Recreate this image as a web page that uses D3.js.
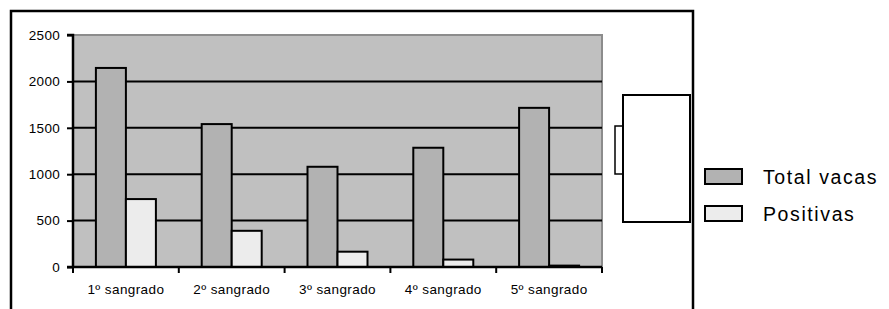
<!DOCTYPE html>
<html>
<head>
<meta charset="utf-8">
<script src="https://cdn.jsdelivr.net/npm/d3@7"></script>
<style>
  body { margin: 0; background: #fff; }
  svg { display: block; font-family: "Liberation Sans", Arial, sans-serif; }
</style>
</head>
<body>
<svg id="chart" width="889" height="309"></svg>
<script>
// data
const categories = ['1º sangrado', '2º sangrado', '3º sangrado', '4º sangrado', '5º sangrado'];
const seriesNames = ['Total vacas', 'Positivas'];
const totalVacas = [2145, 1540, 1080, 1285, 1715];
const positivas = [732, 390, 165, 80, 15];
const yTicks = [0, 500, 1000, 1500, 2000, 2500];

const colors = ['#b2b2b2', '#ececec'];
const plotBg = '#c0c0c0';

const svg = d3.select('#chart');
const plot = { left: 73, top: 35, right: 602, bottom: 267 };

// outer frame (bottom runs off the picture)
svg.append('path')
  .attr('d', 'M11,320 V11 H693 V320')
  .attr('fill', 'none')
  .attr('stroke', '#000')
  .attr('stroke-width', 2.5);

const x = d3.scaleBand()
  .domain(categories)
  .range([plot.left, plot.right])
  .paddingInner(0)
  .paddingOuter(0);

const y = d3.scaleLinear()
  .domain([0, 2500])
  .range([plot.bottom, plot.top]);

const x1 = d3.scaleBand()
  .domain(seriesNames)
  .range([0, 60]);

// plot background
svg.append('rect')
  .attr('x', plot.left).attr('y', plot.top)
  .attr('width', plot.right - plot.left).attr('height', plot.bottom - plot.top)
  .attr('fill', plotBg);
svg.append('path')
  .attr('d', `M${plot.left},${plot.top} H${plot.right} V${plot.bottom}`)
  .attr('fill', 'none').attr('stroke', '#8c8c8c').attr('stroke-width', 2);

// gridlines
svg.append('g')
  .selectAll('line')
  .data(yTicks.filter(d => d > 0 && d < 2500))
  .enter().append('line')
    .attr('x1', plot.left).attr('x2', plot.right)
    .attr('y1', d => y(d)).attr('y2', d => y(d))
    .attr('stroke', '#000').attr('stroke-width', 2);

// bars
const rows = categories.map((c, i) => ({ cat: c, values: [totalVacas[i], positivas[i]] }));
const groups = svg.append('g')
  .selectAll('g')
  .data(rows)
  .enter().append('g')
    .attr('transform', d => `translate(${x(d.cat) + x.bandwidth() / 2 - 30},0)`);

groups.selectAll('rect')
  .data(d => d.values.map((v, j) => ({ name: seriesNames[j], value: v, j: j })))
  .enter().append('rect')
    .attr('x', d => x1(d.name))
    .attr('y', d => y(d.value))
    .attr('width', x1.bandwidth())
    .attr('height', d => y(0) - y(d.value))
    .attr('fill', d => colors[d.j])
    .attr('stroke', '#000')
    .attr('stroke-width', 2);

// y axis
const yAxis = svg.append('g')
  .attr('transform', `translate(${plot.left},0)`)
  .call(d3.axisLeft(y).tickValues(yTicks).tickFormat(d3.format('d')).tickSize(6).tickPadding(7));
yAxis.select('.domain').attr('stroke-width', 2.5).attr('d', `M-6,${plot.top}H0V${plot.bottom}`);
yAxis.selectAll('.tick line').attr('stroke-width', 2);
yAxis.selectAll('text')
  .attr('font-size', 13.5).attr('fill', '#000')
  .attr('letter-spacing', 0.3);

// x axis
const xAxis = svg.append('g')
  .attr('transform', `translate(0,${plot.bottom})`)
  .call(d3.axisBottom(x).tickSize(0).tickPadding(17));
xAxis.select('.domain').attr('stroke-width', 2.5).attr('d', `M${plot.left - 6},0H${plot.right}`);
xAxis.selectAll('.tick text')
  .attr('font-size', 13.5).attr('fill', '#000')
  .attr('letter-spacing', 0.4);
// category boundary ticks
xAxis.append('g')
  .selectAll('line')
  .data(d3.range(categories.length + 1))
  .enter().append('line')
    .attr('x1', i => plot.left + i * x.bandwidth())
    .attr('x2', i => plot.left + i * x.bandwidth())
    .attr('y1', 0).attr('y2', 6)
    .attr('stroke', '#000').attr('stroke-width', 2);

// legend box (empty frame as in the picture)
svg.append('rect')
  .attr('x', 615).attr('y', 126).attr('width', 9).attr('height', 48)
  .attr('fill', '#fff').attr('stroke', '#000').attr('stroke-width', 1.5);
svg.append('rect')
  .attr('x', 623).attr('y', 95).attr('width', 67).attr('height', 127)
  .attr('fill', '#fff').attr('stroke', '#000').attr('stroke-width', 2);

const legend = svg.append('g')
  .selectAll('g')
  .data(seriesNames)
  .enter().append('g')
    .attr('transform', (d, i) => `translate(705,${169 + i * 37})`);
legend.append('rect')
  .attr('width', 37).attr('height', 15)
  .attr('fill', (d, i) => colors[i])
  .attr('stroke', '#000').attr('stroke-width', 2);
legend.append('text')
  .attr('x', 58).attr('y', 15)
  .attr('font-size', 19.5)
  .attr('letter-spacing', 1.6)
  .text(d => d);
</script>
</body>
</html>
